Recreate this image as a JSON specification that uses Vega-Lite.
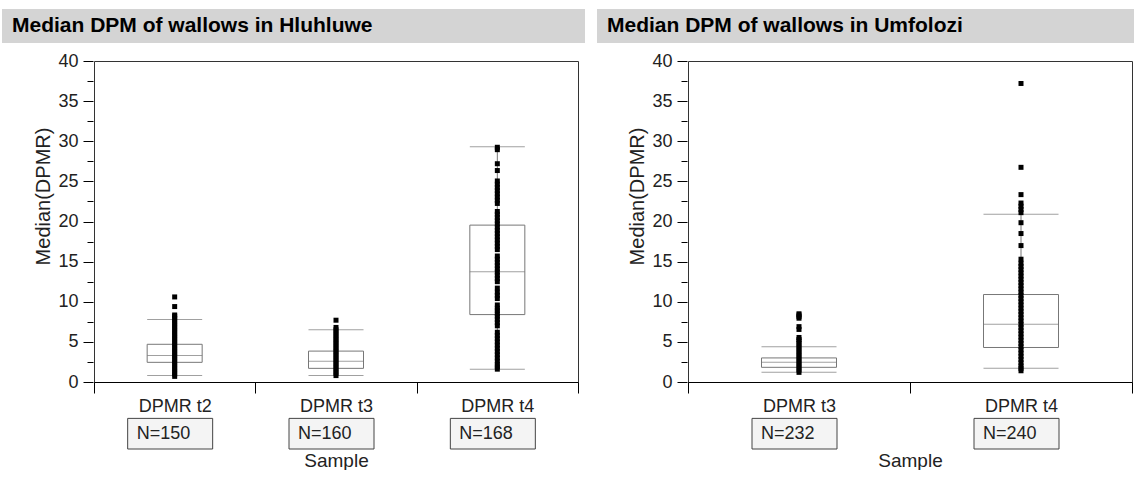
{
  "$schema": "https://vega.github.io/schema/vega-lite/v6.json",
  "padding": {"top": 9, "left": 2, "right": 0, "bottom": 0},
  "background": "white",
  "config": {
    "font": "Liberation Sans",
    "view": {"stroke": null},
    "axis": {"grid": false}
  },
  "datasets": {
    "boxL": [
      {"s": "DPMR t2", "lo": 0.8, "q1": 2.45, "med": 3.3, "q3": 4.7, "hi": 7.8},
      {"s": "DPMR t3", "lo": 0.8, "q1": 1.7, "med": 2.6, "q3": 3.85, "hi": 6.5},
      {"s": "DPMR t4", "lo": 1.6, "q1": 8.4, "med": 13.75, "q3": 19.55, "hi": 29.3}
    ],
    "boxR": [
      {"s": "DPMR t3", "lo": 1.2, "q1": 1.83, "med": 2.45, "q3": 3.0, "hi": 4.4},
      {"s": "DPMR t4", "lo": 1.7, "q1": 4.3, "med": 7.2, "q3": 10.9, "hi": 20.9}
    ],
    "nL": [
      {"s": "DPMR t2", "n": "N=150"},
      {"s": "DPMR t3", "n": "N=160"},
      {"s": "DPMR t4", "n": "N=168"}
    ],
    "nR": [
      {"s": "DPMR t3", "n": "N=232"},
      {"s": "DPMR t4", "n": "N=240"}
    ],
    "titles": [
      {"panel": "L", "t": "Median DPM of wallows in Hluhluwe"},
      {"panel": "R", "t": "Median DPM of wallows in Umfolozi"}
    ],
    "ptsL": [
      {"s": "DPMR t2", "v": 0.7}, {"s": "DPMR t2", "v": 1.0}, {"s": "DPMR t2", "v": 1.3}, {"s": "DPMR t2", "v": 1.6},
      {"s": "DPMR t2", "v": 1.9}, {"s": "DPMR t2", "v": 2.2}, {"s": "DPMR t2", "v": 2.5}, {"s": "DPMR t2", "v": 2.8},
      {"s": "DPMR t2", "v": 3.1}, {"s": "DPMR t2", "v": 3.4}, {"s": "DPMR t2", "v": 3.7}, {"s": "DPMR t2", "v": 4.0},
      {"s": "DPMR t2", "v": 4.3}, {"s": "DPMR t2", "v": 4.6}, {"s": "DPMR t2", "v": 4.9}, {"s": "DPMR t2", "v": 5.2},
      {"s": "DPMR t2", "v": 5.5}, {"s": "DPMR t2", "v": 5.8}, {"s": "DPMR t2", "v": 6.1}, {"s": "DPMR t2", "v": 6.4},
      {"s": "DPMR t2", "v": 6.7}, {"s": "DPMR t2", "v": 7.0}, {"s": "DPMR t2", "v": 7.3}, {"s": "DPMR t2", "v": 7.6},
      {"s": "DPMR t2", "v": 7.9}, {"s": "DPMR t2", "v": 8.2}, {"s": "DPMR t2", "v": 8.35}, {"s": "DPMR t2", "v": 9.4},
      {"s": "DPMR t2", "v": 10.6},
      {"s": "DPMR t3", "v": 0.8}, {"s": "DPMR t3", "v": 1.1}, {"s": "DPMR t3", "v": 1.4}, {"s": "DPMR t3", "v": 1.7},
      {"s": "DPMR t3", "v": 2.0}, {"s": "DPMR t3", "v": 2.3}, {"s": "DPMR t3", "v": 2.6}, {"s": "DPMR t3", "v": 2.9},
      {"s": "DPMR t3", "v": 3.2}, {"s": "DPMR t3", "v": 3.5}, {"s": "DPMR t3", "v": 3.8}, {"s": "DPMR t3", "v": 4.1},
      {"s": "DPMR t3", "v": 4.4}, {"s": "DPMR t3", "v": 4.7}, {"s": "DPMR t3", "v": 5.0}, {"s": "DPMR t3", "v": 5.3},
      {"s": "DPMR t3", "v": 5.6}, {"s": "DPMR t3", "v": 5.9}, {"s": "DPMR t3", "v": 6.2}, {"s": "DPMR t3", "v": 6.5},
      {"s": "DPMR t3", "v": 6.8}, {"s": "DPMR t3", "v": 7.7},
      {"s": "DPMR t4", "v": 1.6}, {"s": "DPMR t4", "v": 1.9}, {"s": "DPMR t4", "v": 2.2}, {"s": "DPMR t4", "v": 2.6},
      {"s": "DPMR t4", "v": 3.0}, {"s": "DPMR t4", "v": 3.4}, {"s": "DPMR t4", "v": 3.8}, {"s": "DPMR t4", "v": 4.2},
      {"s": "DPMR t4", "v": 4.6}, {"s": "DPMR t4", "v": 5.0}, {"s": "DPMR t4", "v": 5.4}, {"s": "DPMR t4", "v": 5.8},
      {"s": "DPMR t4", "v": 6.2}, {"s": "DPMR t4", "v": 7.0}, {"s": "DPMR t4", "v": 7.4}, {"s": "DPMR t4", "v": 7.8},
      {"s": "DPMR t4", "v": 8.2}, {"s": "DPMR t4", "v": 8.5}, {"s": "DPMR t4", "v": 8.9}, {"s": "DPMR t4", "v": 9.2},
      {"s": "DPMR t4", "v": 9.6}, {"s": "DPMR t4", "v": 10.4}, {"s": "DPMR t4", "v": 10.8}, {"s": "DPMR t4", "v": 11.2},
      {"s": "DPMR t4", "v": 11.7}, {"s": "DPMR t4", "v": 12.5}, {"s": "DPMR t4", "v": 12.9}, {"s": "DPMR t4", "v": 13.3},
      {"s": "DPMR t4", "v": 13.7}, {"s": "DPMR t4", "v": 14.1}, {"s": "DPMR t4", "v": 14.5}, {"s": "DPMR t4", "v": 14.9},
      {"s": "DPMR t4", "v": 15.3}, {"s": "DPMR t4", "v": 15.7}, {"s": "DPMR t4", "v": 16.5}, {"s": "DPMR t4", "v": 16.9},
      {"s": "DPMR t4", "v": 17.3}, {"s": "DPMR t4", "v": 17.7}, {"s": "DPMR t4", "v": 18.1}, {"s": "DPMR t4", "v": 18.5},
      {"s": "DPMR t4", "v": 18.9}, {"s": "DPMR t4", "v": 19.3}, {"s": "DPMR t4", "v": 19.7}, {"s": "DPMR t4", "v": 20.1},
      {"s": "DPMR t4", "v": 20.5}, {"s": "DPMR t4", "v": 20.9}, {"s": "DPMR t4", "v": 21.25}, {"s": "DPMR t4", "v": 22.25},
      {"s": "DPMR t4", "v": 22.65}, {"s": "DPMR t4", "v": 23.05}, {"s": "DPMR t4", "v": 23.45}, {"s": "DPMR t4", "v": 23.85},
      {"s": "DPMR t4", "v": 24.25}, {"s": "DPMR t4", "v": 24.65}, {"s": "DPMR t4", "v": 25.05}, {"s": "DPMR t4", "v": 26.35},
      {"s": "DPMR t4", "v": 27.2}, {"s": "DPMR t4", "v": 28.95}, {"s": "DPMR t4", "v": 29.25}
    ],
    "ptsR": [
      {"s": "DPMR t3", "v": 1.2}, {"s": "DPMR t3", "v": 1.5}, {"s": "DPMR t3", "v": 1.8}, {"s": "DPMR t3", "v": 2.1},
      {"s": "DPMR t3", "v": 2.4}, {"s": "DPMR t3", "v": 2.7}, {"s": "DPMR t3", "v": 3.0}, {"s": "DPMR t3", "v": 3.3},
      {"s": "DPMR t3", "v": 3.6}, {"s": "DPMR t3", "v": 3.9}, {"s": "DPMR t3", "v": 4.2}, {"s": "DPMR t3", "v": 4.5},
      {"s": "DPMR t3", "v": 4.8}, {"s": "DPMR t3", "v": 5.1}, {"s": "DPMR t3", "v": 5.3}, {"s": "DPMR t3", "v": 5.55},
      {"s": "DPMR t3", "v": 6.55}, {"s": "DPMR t3", "v": 6.9}, {"s": "DPMR t3", "v": 7.95}, {"s": "DPMR t3", "v": 8.15},
      {"s": "DPMR t3", "v": 8.35}, {"s": "DPMR t3", "v": 8.5},
      {"s": "DPMR t4", "v": 1.4}, {"s": "DPMR t4", "v": 1.7}, {"s": "DPMR t4", "v": 2.0}, {"s": "DPMR t4", "v": 2.4},
      {"s": "DPMR t4", "v": 2.8}, {"s": "DPMR t4", "v": 3.2}, {"s": "DPMR t4", "v": 3.6}, {"s": "DPMR t4", "v": 4.0},
      {"s": "DPMR t4", "v": 4.4}, {"s": "DPMR t4", "v": 4.8}, {"s": "DPMR t4", "v": 5.2}, {"s": "DPMR t4", "v": 5.6},
      {"s": "DPMR t4", "v": 6.0}, {"s": "DPMR t4", "v": 6.4}, {"s": "DPMR t4", "v": 6.8}, {"s": "DPMR t4", "v": 7.2},
      {"s": "DPMR t4", "v": 7.6}, {"s": "DPMR t4", "v": 8.0}, {"s": "DPMR t4", "v": 8.4}, {"s": "DPMR t4", "v": 8.8},
      {"s": "DPMR t4", "v": 9.2}, {"s": "DPMR t4", "v": 9.6}, {"s": "DPMR t4", "v": 10.0}, {"s": "DPMR t4", "v": 10.4},
      {"s": "DPMR t4", "v": 10.8}, {"s": "DPMR t4", "v": 11.2}, {"s": "DPMR t4", "v": 11.6}, {"s": "DPMR t4", "v": 12.0},
      {"s": "DPMR t4", "v": 12.4}, {"s": "DPMR t4", "v": 12.8}, {"s": "DPMR t4", "v": 13.2}, {"s": "DPMR t4", "v": 13.6},
      {"s": "DPMR t4", "v": 14.0}, {"s": "DPMR t4", "v": 14.4}, {"s": "DPMR t4", "v": 14.8}, {"s": "DPMR t4", "v": 15.3},
      {"s": "DPMR t4", "v": 17.0}, {"s": "DPMR t4", "v": 18.5}, {"s": "DPMR t4", "v": 19.85}, {"s": "DPMR t4", "v": 21.1},
      {"s": "DPMR t4", "v": 21.5}, {"s": "DPMR t4", "v": 21.9}, {"s": "DPMR t4", "v": 22.3}, {"s": "DPMR t4", "v": 23.35},
      {"s": "DPMR t4", "v": 26.75}, {"s": "DPMR t4", "v": 37.2}
    ]
  },
  "hconcat": [
    {
      "concat": [
        {
          "width": 92, "height": 34,
          "view": {"fill": "#d4d4d4", "stroke": null},
          "data": {"values": [{}]},
          "mark": {"type": "point", "opacity": 0, "size": 0},
          "encoding": {
            "x": {"datum": 0.5, "type": "quantitative", "scale": {"domain": [0, 1]}, "axis": null},
            "y": {"datum": 0.5, "type": "quantitative", "scale": {"domain": [0, 1]}, "axis": null}
          }
        },
        {
          "width": 491, "height": 34,
          "view": {"fill": "#d4d4d4", "stroke": null},
          "data": {"name": "titles"},
          "transform": [{"filter": "datum.panel === 'L'"}],
          "mark": {"type": "text", "align": "left", "baseline": "middle", "dx": -82, "fontSize": 21, "fontWeight": "bold", "color": "#000000"},
          "encoding": {
            "x": {"datum": 0, "type": "quantitative", "scale": {"domain": [0, 1]}, "axis": null},
            "y": {"datum": 0.5, "type": "quantitative", "scale": {"domain": [0, 1]}, "axis": null},
            "text": {"field": "t"}
          }
        },
        {
          "width": 92, "height": 321,
          "data": {"name": "boxL"},
          "encoding": {
            "x": {"datum": 0.5, "type": "quantitative", "scale": {"domain": [0, 1]}, "axis": null}
          },
          "layer": [
            {
              "mark": {"type": "point", "opacity": 0, "size": 0},
              "encoding": {
                "y": {"field": "lo", "type": "quantitative", "scale": {"domain": [0, 40]},
                  "axis": {"orient": "left", "offset": -91, "values": [2.5, 7.5, 12.5, 17.5, 22.5, 27.5, 32.5, 37.5], "tickSize": 6, "labels": false, "domain": false, "title": null, "tickColor": "#000000"}}
              }
            },
            {
              "mark": {"type": "point", "opacity": 0, "size": 0},
              "encoding": {
                "y": {"field": "hi", "type": "quantitative", "scale": {"domain": [0, 40]},
                  "axis": {"orient": "left", "offset": -91, "values": [0, 5, 10, 15, 20, 25, 30, 35, 40], "tickSize": 10, "labelPadding": 5, "labelFontSize": 18, "labelColor": "#222222", "tickColor": "#000000", "domain": false, "title": "Median(DPMR)", "titleFontSize": 20, "titleFontWeight": "normal", "titleColor": "#222222", "titleX": -40, "titleY": 135, "titleAngle": 270}}
              }
            }
          ],
          "resolve": {"axis": {"y": "independent"}}
        },
        {
          "width": 484, "height": 321,
          "view": {"stroke": "#333333"},
          "encoding": {
            "x": {
              "field": "s", "type": "nominal",
              "scale": {"paddingInner": 0, "paddingOuter": 0},
              "axis": {"title": null, "labelAngle": 0, "tickBand": "extent", "tickSize": 11, "labelPadding": 4, "labelFontSize": 18, "labelColor": "#222222", "tickColor": "#000000", "domainColor": "#000000"}
            }
          },
          "layer": [
            {
              "data": {"name": "boxL"},
              "mark": {"type": "rule", "color": "#777777", "strokeWidth": 1},
              "encoding": {
                "y": {"field": "lo", "type": "quantitative", "scale": {"domain": [0, 40]}, "axis": null},
                "y2": {"field": "hi"}
              }
            },
            {
              "data": {"name": "boxL"},
              "mark": {"type": "bar", "width": 55, "fill": "#ffffff", "stroke": "#777777", "strokeWidth": 1},
              "encoding": {
                "y": {"field": "q1", "type": "quantitative", "scale": {"domain": [0, 40]}, "axis": null},
                "y2": {"field": "q3"}
              }
            },
            {
              "data": {"name": "boxL"},
              "mark": {"type": "tick", "size": 55, "thickness": 1, "color": "#777777"},
              "encoding": {"y": {"field": "med", "type": "quantitative", "scale": {"domain": [0, 40]}, "axis": null}}
            },
            {
              "data": {"name": "boxL"},
              "mark": {"type": "tick", "size": 55, "thickness": 1, "color": "#777777"},
              "encoding": {"y": {"field": "lo", "type": "quantitative", "scale": {"domain": [0, 40]}, "axis": null}}
            },
            {
              "data": {"name": "boxL"},
              "mark": {"type": "tick", "size": 55, "thickness": 1, "color": "#777777"},
              "encoding": {"y": {"field": "hi", "type": "quantitative", "scale": {"domain": [0, 40]}, "axis": null}}
            },
            {
              "data": {"name": "ptsL"},
              "mark": {"type": "square", "size": 25, "color": "#000000", "opacity": 1, "filled": true},
              "encoding": {
                "y": {"field": "v", "type": "quantitative", "scale": {"domain": [0, 40]}, "axis": null}
              }
            }
          ]
        },
        {
          "width": 92, "height": 49,
          "data": {"values": [{}]},
          "mark": {"type": "point", "opacity": 0, "size": 0},
          "encoding": {
            "x": {"datum": 0.5, "type": "quantitative", "scale": {"domain": [0, 1]}, "axis": null},
            "y": {"datum": 0.5, "type": "quantitative", "scale": {"domain": [0, 1]}, "axis": null}
          }
        },
        {
          "width": 484, "height": 49,
          "data": {"name": "nL"},
          "encoding": {
            "x": {
              "field": "s", "type": "nominal",
              "scale": {"paddingInner": 0, "paddingOuter": 0},
              "axis": {"labels": false, "ticks": false, "domain": false, "title": "Sample", "titleFontSize": 19, "titleFontWeight": "normal", "titleColor": "#222222", "titlePadding": 2}
            }
          },
          "layer": [
            {
              "mark": {"type": "bar", "width": 85, "xOffset": -4.5, "fill": "#f4f4f4", "stroke": "#444444", "strokeWidth": 1},
              "encoding": {
                "y": {"datum": 0, "type": "quantitative", "scale": {"domain": [0, 1.53125]}, "axis": null},
                "y2": {"datum": 1}
              }
            },
            {
              "mark": {"type": "text", "align": "left", "baseline": "middle", "dx": -38, "fontSize": 18, "color": "#222222"},
              "encoding": {
                "y": {"datum": 0.5, "type": "quantitative"},
                "text": {"field": "n"}
              }
            }
          ]
        }
      ],
      "columns": 2,
      "bounds": "flush",
      "spacing": {"row": 18, "column": 0}
    },
    {
      "concat": [
        {
          "width": 91, "height": 34,
          "view": {"fill": "#d4d4d4", "stroke": null},
          "data": {"values": [{}]},
          "mark": {"type": "point", "opacity": 0, "size": 0},
          "encoding": {
            "x": {"datum": 0.5, "type": "quantitative", "scale": {"domain": [0, 1]}, "axis": null},
            "y": {"datum": 0.5, "type": "quantitative", "scale": {"domain": [0, 1]}, "axis": null}
          }
        },
        {
          "width": 452, "height": 34,
          "view": {"fill": "#d4d4d4", "stroke": null},
          "data": {"name": "titles"},
          "transform": [{"filter": "datum.panel === 'R'"}],
          "mark": {"type": "text", "align": "left", "baseline": "middle", "dx": -81, "fontSize": 21, "fontWeight": "bold", "color": "#000000"},
          "encoding": {
            "x": {"datum": 0, "type": "quantitative", "scale": {"domain": [0, 1]}, "axis": null},
            "y": {"datum": 0.5, "type": "quantitative", "scale": {"domain": [0, 1]}, "axis": null},
            "text": {"field": "t"}
          }
        },
        {
          "width": 91, "height": 321,
          "data": {"name": "boxR"},
          "encoding": {
            "x": {"datum": 0.5, "type": "quantitative", "scale": {"domain": [0, 1]}, "axis": null}
          },
          "layer": [
            {
              "mark": {"type": "point", "opacity": 0, "size": 0},
              "encoding": {
                "y": {"field": "lo", "type": "quantitative", "scale": {"domain": [0, 40]},
                  "axis": {"orient": "left", "offset": -90, "values": [2.5, 7.5, 12.5, 17.5, 22.5, 27.5, 32.5, 37.5], "tickSize": 6, "labels": false, "domain": false, "title": null, "tickColor": "#000000"}}
              }
            },
            {
              "mark": {"type": "point", "opacity": 0, "size": 0},
              "encoding": {
                "y": {"field": "hi", "type": "quantitative", "scale": {"domain": [0, 40]},
                  "axis": {"orient": "left", "offset": -90, "values": [0, 5, 10, 15, 20, 25, 30, 35, 40], "tickSize": 10, "labelPadding": 5, "labelFontSize": 18, "labelColor": "#222222", "tickColor": "#000000", "domain": false, "title": "Median(DPMR)", "titleFontSize": 20, "titleFontWeight": "normal", "titleColor": "#222222", "titleX": -40, "titleY": 135, "titleAngle": 270}}
              }
            }
          ],
          "resolve": {"axis": {"y": "independent"}}
        },
        {
          "width": 444, "height": 321,
          "view": {"stroke": "#333333"},
          "encoding": {
            "x": {
              "field": "s", "type": "nominal",
              "scale": {"paddingInner": 0, "paddingOuter": 0},
              "axis": {"title": null, "labelAngle": 0, "tickBand": "extent", "tickSize": 11, "labelPadding": 4, "labelFontSize": 18, "labelColor": "#222222", "tickColor": "#000000", "domainColor": "#000000"}
            }
          },
          "layer": [
            {
              "data": {"name": "boxR"},
              "mark": {"type": "rule", "color": "#777777", "strokeWidth": 1},
              "encoding": {
                "y": {"field": "lo", "type": "quantitative", "scale": {"domain": [0, 40]}, "axis": null},
                "y2": {"field": "hi"}
              }
            },
            {
              "data": {"name": "boxR"},
              "mark": {"type": "bar", "width": 75, "fill": "#ffffff", "stroke": "#777777", "strokeWidth": 1},
              "encoding": {
                "y": {"field": "q1", "type": "quantitative", "scale": {"domain": [0, 40]}, "axis": null},
                "y2": {"field": "q3"}
              }
            },
            {
              "data": {"name": "boxR"},
              "mark": {"type": "tick", "size": 75, "thickness": 1, "color": "#777777"},
              "encoding": {"y": {"field": "med", "type": "quantitative", "scale": {"domain": [0, 40]}, "axis": null}}
            },
            {
              "data": {"name": "boxR"},
              "mark": {"type": "tick", "size": 75, "thickness": 1, "color": "#777777"},
              "encoding": {"y": {"field": "lo", "type": "quantitative", "scale": {"domain": [0, 40]}, "axis": null}}
            },
            {
              "data": {"name": "boxR"},
              "mark": {"type": "tick", "size": 75, "thickness": 1, "color": "#777777"},
              "encoding": {"y": {"field": "hi", "type": "quantitative", "scale": {"domain": [0, 40]}, "axis": null}}
            },
            {
              "data": {"name": "ptsR"},
              "mark": {"type": "square", "size": 25, "color": "#000000", "opacity": 1, "filled": true},
              "encoding": {
                "y": {"field": "v", "type": "quantitative", "scale": {"domain": [0, 40]}, "axis": null}
              }
            }
          ]
        },
        {
          "width": 91, "height": 49,
          "data": {"values": [{}]},
          "mark": {"type": "point", "opacity": 0, "size": 0},
          "encoding": {
            "x": {"datum": 0.5, "type": "quantitative", "scale": {"domain": [0, 1]}, "axis": null},
            "y": {"datum": 0.5, "type": "quantitative", "scale": {"domain": [0, 1]}, "axis": null}
          }
        },
        {
          "width": 444, "height": 49,
          "data": {"name": "nR"},
          "encoding": {
            "x": {
              "field": "s", "type": "nominal",
              "scale": {"paddingInner": 0, "paddingOuter": 0},
              "axis": {"labels": false, "ticks": false, "domain": false, "title": "Sample", "titleFontSize": 19, "titleFontWeight": "normal", "titleColor": "#222222", "titlePadding": 2}
            }
          },
          "layer": [
            {
              "mark": {"type": "bar", "width": 85, "xOffset": -4.5, "fill": "#f4f4f4", "stroke": "#444444", "strokeWidth": 1},
              "encoding": {
                "y": {"datum": 0, "type": "quantitative", "scale": {"domain": [0, 1.53125]}, "axis": null},
                "y2": {"datum": 1}
              }
            },
            {
              "mark": {"type": "text", "align": "left", "baseline": "middle", "dx": -38, "fontSize": 18, "color": "#222222"},
              "encoding": {
                "y": {"datum": 0.5, "type": "quantitative"},
                "text": {"field": "n"}
              }
            }
          ]
        }
      ],
      "columns": 2,
      "bounds": "flush",
      "spacing": {"row": 18, "column": 0}
    }
  ],
  "spacing": 12
}
